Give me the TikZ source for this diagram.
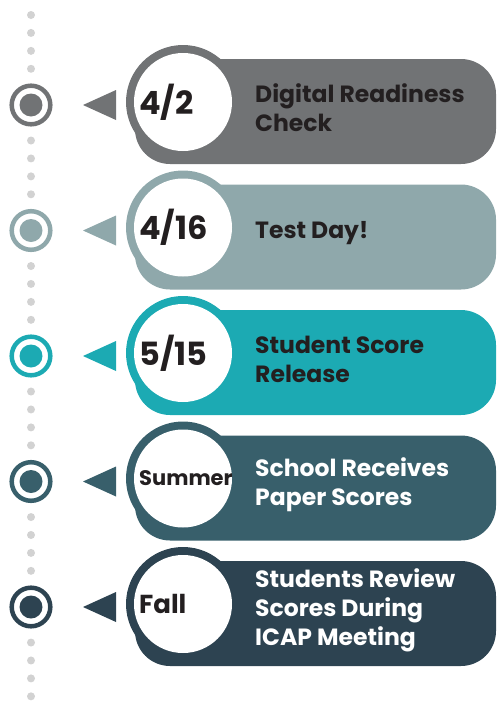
\documentclass[tikz,border=0pt]{standalone}
\usepackage{fontspec}
\setmainfont{Poppins}
\definecolor{rowA}{HTML}{717375}
\definecolor{rowB}{HTML}{8FA8AB}
\definecolor{rowC}{HTML}{1CAAB3}
\definecolor{rowD}{HTML}{385F6B}
\definecolor{rowE}{HTML}{2D4351}
\definecolor{dotgray}{HTML}{D2D2D2}
\definecolor{inkdark}{HTML}{231F20}

\begin{document}
\begin{tikzpicture}[x=1pt,y=-1pt,
    datetext/.style={anchor=west,inner sep=0pt,text=inkdark},
    notetext/.style={anchor=west,inner sep=0pt,align=left,
      font=\bfseries\fontsize{23.5}{29}\selectfont}]
  \useasboundingbox (0,0) rectangle (496,702);
  % dotted time line
  \foreach \k in {0,...,38}{
    \pgfmathtruncatemacro\m{mod(\k,7)}
    \ifnum\m<4 \fill[dotgray] (31,15+17.93*\k) circle [radius=4]; \fi
  }
  % one row per date
  \foreach \i/\c/\d/\ds/\t/\tc in {
      0/rowA/{4/2}/32/{Digital Readiness\\Check}/inkdark,
      1/rowB/{4/16}/32/{Test Day!}/inkdark,
      2/rowC/{5/15}/32/{Student Score\\Release}/inkdark,
      3/rowD/{Summer}/21/{School Receives\\Paper Scores}/white,
      4/rowE/{Fall}/26/{Students Review\\Scores During\\ICAP Meeting}/white}{
    \pgfmathsetmacro\y{105+125.5*\i}
    \draw[\c, line width=4.5pt] (31,\y) circle [radius=19.3];
    \fill[\c] (31,\y) circle [radius=11.5];
    \fill[\c] (83,\y) -- (116,\y-15) -- (116,\y+15) -- cycle;
    \fill[\c, rounded corners=35pt] (135,\y-46) rectangle (496,\y+59);
    \fill[\c] (183,\y-3) circle [radius=57];
    \fill[white] (183,\y-3) circle [radius=49];
    \node[datetext, font=\bfseries\fontsize{\ds}{\ds}\selectfont] (date\i) at (139,\y-3) {\d};
    \node[notetext, text=\tc] (note\i) at (255,\y+3) {\t};
  }
\end{tikzpicture}
\end{document}
